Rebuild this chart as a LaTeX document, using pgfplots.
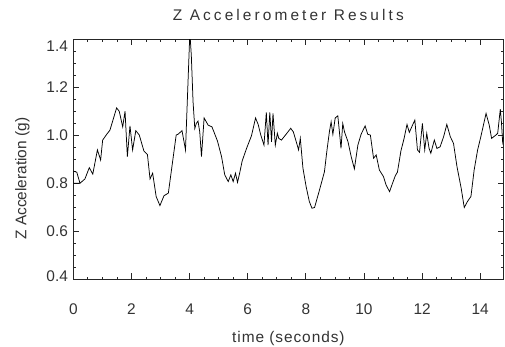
\documentclass[border=0pt]{standalone}
\usepackage{fontspec}
\setmainfont{Liberation Sans}
\usepackage{pgfplots}
\pgfplotsset{compat=1.18}
\begin{document}
\fontsize{15.5}{18}\selectfont
\begin{tikzpicture}
\begin{axis}[
 scale only axis, width=430.2bp, height=240bp,
 xmin=0, xmax=14.8, ymin=0.4, ymax=1.4,
 xtick={0,2,4,6,8,10,12,14}, ytick={0.4,0.6,0.8,1.0,1.2,1.4},
 yticklabels={\raisebox{-1.5bp}[0pt][0pt]{0.4},0.6,0.8,1.0,1.2,\raisebox{-12bp}[0pt][0pt]{1.4}},
 minor x tick num=3, minor y tick num=3,
 tick align=inside, major tick length=6bp, minor tick length=3bp,
 axis line style={line width=0.8bp, black!85},
 every tick/.style={line width=0.8bp, black!85},
 /pgf/number format/assume math mode=true,
 yticklabel style={text=black!80},
 xticklabel style={anchor=base, yshift=-35bp, text=black!80},
 title={Z Accelerometer Results},
 title style={at={(axis description cs:0.5,1)}, anchor=base, yshift=13bp, font=\addfontfeatures{LetterSpace=20}, text=black!80},
 xlabel={time (seconds)},
 xlabel style={at={(axis description cs:0.5,0)}, anchor=base, yshift=-63bp, font=\addfontfeatures{LetterSpace=6}, text=black!80},
 ylabel={Z Acceleration (g)},
 ylabel style={at={(axis description cs:-0.1093,0.42)}, anchor=base, text=black!80},
]
\addplot[black, line width=0.75bp] coordinates {
(0.23,0.801)(0,0.801)(0,0.852)(0.12,0.847)(0.23,0.801)(0.40,0.819)(0.55,0.866)(0.67,0.839)(0.83,0.94)(0.94,0.898)(1.01,0.981)(1.15,1.005)(1.26,1.022)(1.49,1.115)(1.58,1.101)(1.70,1.036)(1.78,1.101)(1.86,0.912)(1.95,1.040)(2.04,0.94)(2.15,1.02)(2.27,1.002)(2.43,0.935)(2.55,0.921)(2.64,0.819)(2.73,0.843)(2.85,0.746)(2.98,0.708)(3.12,0.749)(3.27,0.760)(3.54,1.002)(3.60,1.005)(3.74,1.02)(3.86,0.94)(4.01,1.43)(4.06,1.334)(4.12,1.14)(4.18,1.029)(4.23,1.05)(4.29,1.06)(4.35,1.015)(4.41,0.912)(4.50,1.073)(4.64,1.043)(4.77,1.036)(4.96,0.977)(5.10,0.912)(5.21,0.836)(5.33,0.808)(5.42,0.836)(5.50,0.808)(5.58,0.843)(5.65,0.805)(5.73,0.847)(5.81,0.894)(5.96,0.946)(6.13,0.999)(6.27,1.073)(6.36,1.046)(6.45,1.002)(6.56,0.96)(6.64,1.096)(6.70,0.96)(6.76,1.096)(6.82,0.974)(6.87,1.092)(6.95,0.96)(7.02,1.009)(7.07,0.988)(7.16,0.981)(7.30,1.002)(7.48,1.03)(7.57,1.015)(7.67,0.974)(7.75,0.94)(7.81,0.988)(7.90,0.864)(8.01,0.787)(8.12,0.725)(8.21,0.697)(8.30,0.70)(8.47,0.773)(8.64,0.849)(8.72,0.932)(8.81,1.015)(8.87,1.057)(8.93,1.005)(9.01,1.073)(9.10,1.082)(9.16,1.009)(9.21,0.946)(9.27,1.05)(9.33,1.015)(9.45,0.974)(9.56,0.912)(9.67,0.861)(9.79,0.96)(9.90,1.005)(10.04,1.040)(10.13,1.005)(10.22,1.002)(10.33,0.905)(10.42,0.919)(10.53,0.856)(10.67,0.829)(10.76,0.794)(10.88,0.766)(10.97,0.797)(11.08,0.833)(11.15,0.847)(11.27,0.935)(11.38,0.988)(11.48,1.046)(11.56,1.013)(11.67,1.043)(11.75,1.064)(11.84,0.94)(11.91,0.93)(12.01,1.05)(12.09,0.94)(12.16,1.009)(12.24,0.946)(12.30,0.926)(12.42,0.981)(12.51,0.946)(12.62,0.953)(12.74,0.995)(12.85,1.046)(12.97,0.995)(13.08,0.967)(13.20,0.870)(13.34,0.783)(13.45,0.70)(13.56,0.725)(13.68,0.746)(13.79,0.856)(13.91,0.94)(14.02,0.995)(14.20,1.092)(14.31,1.043)(14.39,0.988)(14.54,1.002)(14.60,1.009)(14.69,1.110)(14.73,1.054)(14.77,0.974)(14.80,0.995)
};
\end{axis}
\pgfresetboundingbox
\path ([shift={(-73.3bp,-67.5bp)}]current axis.south west) rectangle ([shift={(1.5bp,39.5bp)}]current axis.north east);
\end{tikzpicture}
\end{document}
